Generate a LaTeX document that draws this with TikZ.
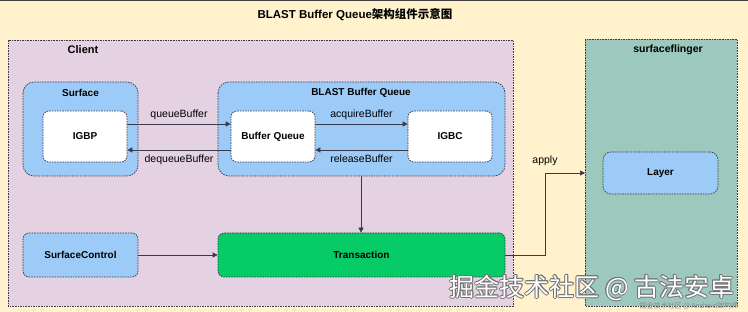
\documentclass[tikz,border=0pt]{standalone}
\usepackage{fontspec}
\setmainfont{Liberation Sans}
\newfontfamily\cjk{Noto Sans CJK SC}
\usetikzlibrary{arrows.meta}
\definecolor{cream}{HTML}{FFF2CC}
\definecolor{clientc}{HTML}{E4D2E3}
\definecolor{sfc}{HTML}{9CC8BD}
\definecolor{blue1}{HTML}{9DCBF8}
\definecolor{greenc}{HTML}{06CB66}
\definecolor{bordc}{HTML}{3A3A4A}
\tikzset{
  dbox/.style={draw=bordc, line width=0.7pt, dash pattern=on 1.6pt off 1pt},
  grp/.style={dbox, fill=blue1, rounded corners=11pt},
  inner/.style={dbox, fill=white, rounded corners=6pt, font=\bfseries\fontsize{10}{12}\selectfont},
  lbl/.style={font=\bfseries\fontsize{10}{12}\selectfont},
  alab/.style={font=\fontsize{10.5}{12}\selectfont},
  arr/.style={draw=bordc, line width=0.7pt, -{Triangle[length=5pt,width=5pt]}},
  wm/.style={font=\cjk\fontsize{25}{28}\selectfont, anchor=west}
}
\begin{document}
\begin{tikzpicture}[x=1pt,y=-1pt]
\useasboundingbox (0,0) rectangle (748,312);
\fill[cream] (0,0) rectangle (748,312);
\fill[black!75] (0,0) rectangle (748,1.5);
\node[font=\bfseries\fontsize{11.5}{13}\selectfont] (title) at (355,15) {BLAST Buffer Queue{\cjk 架构组件示意图}};
% Client
\path[dbox, fill=clientc] (8,40) rectangle (513,306);
\node[font=\bfseries\fontsize{11}{13}\selectfont] (client) at (83,50) {Client};
% surfaceflinger
\path[dbox, fill=sfc] (585,39) rectangle (737,306);
\node[font=\bfseries\fontsize{10.5}{13}\selectfont] (sfl) at (668,50) {surfaceflinger};
% Surface group
\path[grp] (23,82) rectangle (138,176);
\node[lbl] (surface) at (80.5,93) {Surface};
% BLAST group
\path[grp] (218,82) rectangle (505,176);
\coordinate (blastbot) at (361,176);
\node[lbl] (blast) at (361,93) {BLAST Buffer Queue};
% inner nodes
\node[inner, minimum width=84pt, minimum height=51pt] (igbp) at (85,136.5) {IGBP};
\node[inner, minimum width=84pt, minimum height=51pt] (bq) at (273,136.5) {Buffer Queue};
\node[inner, minimum width=84pt, minimum height=51pt] (igbc) at (450,136.5) {IGBC};
% bottom nodes
\node[dbox, fill=blue1, rounded corners=6pt, minimum width=115pt, minimum height=44pt, font=\bfseries\fontsize{10}{12}\selectfont] (sc) at (80.5,255) {SurfaceControl};
\node[dbox, fill=greenc, rounded corners=6pt, minimum width=287pt, minimum height=44pt, font=\bfseries\fontsize{10}{12}\selectfont] (tx) at (361.5,255) {Transaction};
\node[dbox, fill=blue1, rounded corners=8pt, minimum width=115pt, minimum height=42pt, font=\bfseries\fontsize{10}{12}\selectfont] (layer) at (660.5,173) {Layer};
% arrows
\draw[arr] ([yshift=12.5pt]igbp.east) -- node[alab, above=1pt] {queueBuffer} ([yshift=12.5pt]bq.west);
\draw[arr] ([yshift=-13.5pt]bq.west) -- node[alab, below=1pt] {dequeueBuffer} ([yshift=-13.5pt]igbp.east);
\draw[arr] ([yshift=12.5pt]bq.east) -- node[alab, above=1pt] {acquireBuffer} ([yshift=12.5pt]igbc.west);
\draw[arr] ([yshift=-13.5pt]igbc.west) -- node[alab, below=1pt] {releaseBuffer} ([yshift=-13.5pt]bq.east);
\draw[arr] (blastbot) -- (tx.north -| blastbot);
\draw[arr] (sc.east) -- (tx.west);
\coordinate (bend) at (545,173);
\coordinate (sfin) at (585,173);
\draw[arr] (tx.east) -| (bend) -- (sfin);
\node[alab, anchor=south] (applyl) at ([yshift=4pt]bend) {apply};
% watermark
\foreach \dx/\dy in {0.7/0,-0.7/0,0/0.7,0/-0.7,0.5/0.5,-0.5/-0.5,0.5/-0.5,-0.5/0.5}{
  \node[wm, text=black!55] at (446+\dx,288+\dy) {掘金技术社区 @ 古法安卓};
}
\node[wm, text=white] (wm1) at (446,288) {掘金技术社区 @ 古法安卓};
\node[font=\cjk\fontsize{7}{8}\selectfont, text=black!45, anchor=east] (wm2) at (742,306) {掘金技术社区 @ Android架构师};
\end{tikzpicture}
\end{document}
